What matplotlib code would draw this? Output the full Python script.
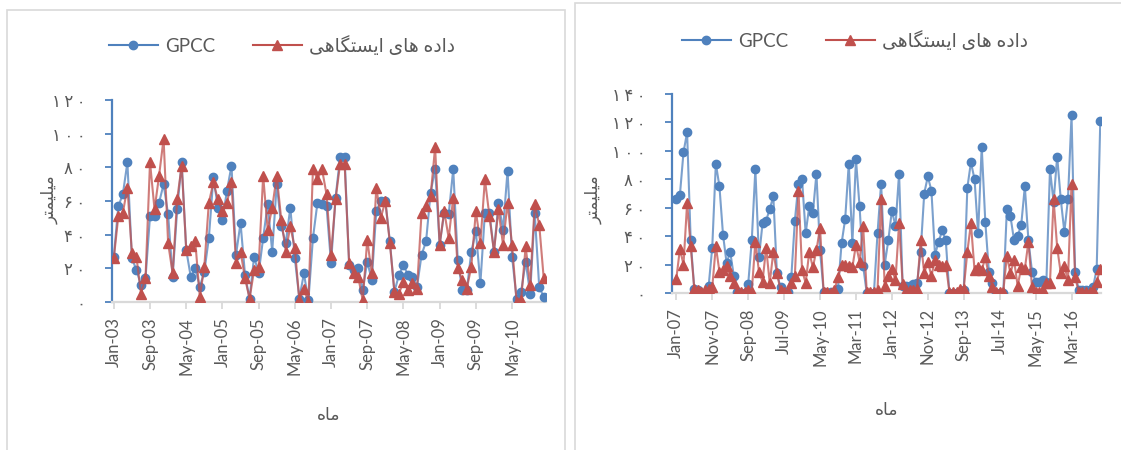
import matplotlib
matplotlib.use("Agg")
import matplotlib.pyplot as plt
from matplotlib.lines import Line2D
from matplotlib.patches import Rectangle

plt.rcParams['font.family'] = ['Lato', 'DejaVu Sans']

# ---- data: left chart (Jan-03 .. Dec-10)
left_gpcc = [27, 57, 64, 83, 26, 19, 10, 14, 51, 51, 59, 70, 52, 15, 55, 83, 31, 15, 20, 9,
             18, 38, 74, 56, 49, 66, 81, 28, 47, 16, 2, 27, 17, 38, 58, 30, 70, 45, 35, 56,
             26, 2, 17, 1, 38, 59, 58, 57, 23, 62, 86, 86, 22, 19, 20, 7, 24, 13, 54, 60,
             60, 36, 6, 16, 22, 16, 15, 9, 28, 36, 65, 79, 34, 53, 52, 79, 25, 7, 7, 30,
             42, 11, 53, 53, 30, 59, 43, 78, 27, 2, 6, 24, 5, 53, 9, 3]
left_station = [26, 51, 53, 68, 29, 27, 5, 14, 83, 55, 75, 97, 35, 17, 61, 81, 31, 33, 36, 3,
                21, 59, 71, 61, 54, 59, 71, 23, 30, 14, 2, 19, 21, 75, 43, 56, 75, 49, 30, 45,
                32, 1, 8, 0, 79, 73, 79, 64, 28, 61, 82, 82, 23, 17, 15, 1, 37, 17, 68, 50,
                60, 35, 6, 5, 12, 7, 11, 8, 53, 57, 63, 92, 34, 54, 38, 62, 20, 13, 8, 21,
                54, 35, 73, 51, 30, 55, 34, 59, 34, 0, 1, 33, 10, 58, 46, 14]
left_labels = ['Jan-03', 'Sep-03', 'May-04', 'Jan-05', 'Sep-05', 'May-06',
               'Jan-07', 'Sep-07', 'May-08', 'Jan-09', 'Sep-09', 'May-10']

# ---- data: right chart (Jan-07 .. Nov-16)
right_gpcc = [66, 69, 99, 113, 37, 3, 2, 0, 0, 5, 32, 91, 75, 41, 21, 29, 12, 1, 0, 0,
              6, 37, 87, 25, 49, 51, 59, 68, 14, 4, 1, 1, 11, 51, 77, 80, 42, 61, 56, 84,
              30, 1, 0, 1, 1, 3, 35, 52, 91, 35, 94, 61, 19, 0, 0, 0, 42, 77, 20, 37,
              58, 47, 84, 5, 5, 5, 6, 7, 29, 70, 82, 72, 27, 36, 44, 37, 0, 0, 0, 1,
              2, 74, 92, 80, 42, 103, 50, 15, 7, 0, 0, 0, 59, 54, 37, 40, 48, 75, 37, 15,
              8, 8, 9, 8, 87, 64, 96, 66, 43, 66, 125, 15, 2, 2, 2, 2, 4, 17, 121]
right_station = [10, 31, 20, 63, 33, 3, 2, 1, 2, 3, 4, 33, 15, 16, 19, 12, 7, 1, 1, 1,
                 2, 1, 36, 15, 8, 32, 7, 29, 14, 2, 1, 1, 7, 12, 72, 16, 7, 29, 18, 30,
                 46, 1, 1, 0, 2, 11, 20, 20, 19, 18, 34, 22, 47, 1, 1, 1, 2, 66, 5, 12,
                 17, 9, 49, 6, 2, 2, 2, 3, 37, 14, 22, 12, 23, 20, 19, 20, 1, 1, 1, 3,
                 3, 29, 49, 16, 18, 16, 25, 12, 4, 1, 1, 1, 26, 14, 23, 5, 18, 17, 36, 4,
                 1, 1, 2, 7, 7, 66, 32, 14, 19, 9, 77, 11, 1, 1, 1, 1, 2, 8, 17]
right_labels = ['Jan-07', 'Nov-07', 'Sep-08', 'Jul-09', 'May-10', 'Mar-11',
                'Jan-12', 'Nov-12', 'Sep-13', 'Jul-14', 'May-15', 'Mar-16']

# Persian text (presentation forms, visual order)
station_txt = ''.join(reversed('\uFEA9\uFE8D\uFEA9\uFEE9 \uFEEB\uFE8E\uFBFC '
                               '\uFE8D\uFBFE\uFEB4\uFE98\uFB95\uFE8E\uFEEB\uFBFD'))
ylab_txt = ''.join(reversed('\uFEE3\uFBFF\uFEE0\uFBFF\uFEE4\uFE98\uFEAE'))
xlab_txt = ''.join(reversed('\uFEE3\uFE8E\uFEE9'))
fa_digits = '۰۱۲۳۴۵۶۷۸۹'


def fa(n):
    return '\u2009'.join(fa_digits[int(c)] for c in str(n))


BLUE = '#4F81BD'
RED = '#C0504D'
GRAY = '#595959'

W, H = 1121, 450
fig = plt.figure(figsize=(W / 100, H / 100), dpi=100)

# chart borders
fig.patches.append(Rectangle((7 / W, -0.1), 558 / W, 1.1 - 10 / H, transform=fig.transFigure,
                             fill=False, edgecolor='#d9d9d9', lw=1.2))
fig.patches.append(Rectangle((575 / W, -0.1), 560 / W, 1.1 - 3 / H, transform=fig.transFigure,
                             fill=False, edgecolor='#d9d9d9', lw=1.2))


def panel(rect, gpcc, station, labels, step, ymax, xlim, legx, legy, ylabx, xlaby):
    ax = fig.add_axes([rect[0] / W, 1 - rect[3] / H, (rect[2] - rect[0]) / W, (rect[3] - rect[1]) / H])
    x = list(range(len(gpcc)))
    ax.plot(x, gpcc, color=BLUE, lw=1.5, alpha=0.75, zorder=2)
    ax.plot(x, gpcc, ls='none', marker='o', ms=6, color=BLUE, zorder=3)
    ax.plot(x, station, color=RED, lw=1.5, alpha=0.75, zorder=4)
    ax.plot(x, station, ls='none', marker='^', ms=6.5, color=RED, zorder=5)
    ax.set_xlim(*xlim)
    ax.set_ylim(0, ymax)
    yt = list(range(0, ymax + 1, 20))
    ax.set_yticks(yt)
    ax.set_yticklabels([fa(v) for v in yt], family=['DejaVu Sans'], fontsize=12, color=GRAY)
    ax.set_xticks(list(range(0, len(labels) * step, step)))
    ax.set_xticklabels(labels, rotation=90, fontsize=12, color=GRAY)
    for s in ['top', 'right']:
        ax.spines[s].set_visible(False)
    ax.spines['left'].set_color(BLUE)
    ax.spines['left'].set_linewidth(1.6)
    ax.spines['bottom'].set_color('#d9d9d9')
    ax.spines['bottom'].set_linewidth(1.6)
    ax.tick_params(axis='y', colors=BLUE, length=5, width=1.3, pad=14, labelcolor=GRAY)
    ax.tick_params(axis='x', colors='#d9d9d9', length=5, width=1.3, pad=6, labelcolor=GRAY)
    ax.set_facecolor('none')

    h1 = Line2D([], [], color=BLUE, lw=1.5, marker='o', ms=6)
    h2 = Line2D([], [], color=RED, lw=1.5, marker='^', ms=6.5)
    fig.legend([h1, h2], ['GPCC', station_txt], loc='center',
               bbox_to_anchor=(legx / W, 1 - legy / H), ncol=2, frameon=False,
               handlelength=2.6, columnspacing=2.0, handletextpad=0.4,
               labelcolor=GRAY, prop={'family': ['Lato', 'DejaVu Sans'], 'size': 13.5})
    fig.text(ylabx / W, 1 - 200 / H, ylab_txt, rotation=90,
             ha='center', va='center', fontsize=12, color=GRAY, family=['DejaVu Sans'])
    fig.text((rect[0] + rect[2]) / 2 / W, 1 - xlaby / H, xlab_txt, ha='center', va='center',
             fontsize=12.5, color=GRAY, family=['DejaVu Sans'])
    return ax


panel((112, 100, 546, 302), left_gpcc, left_station, left_labels, 8, 120,
      (-0.4, 95.5), 282, 45, 50, 415)
panel((672, 94, 1101, 293), right_gpcc, right_station, right_labels, 10, 140,
      (-1.2, 118.2), 855, 40, 594, 410)

fig.savefig('out.png', dpi=100, facecolor='white')
